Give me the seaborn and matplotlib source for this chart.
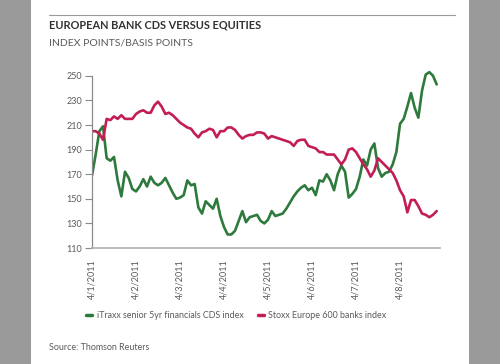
import numpy as np
import pandas as pd
import matplotlib
matplotlib.use("Agg")
import matplotlib.pyplot as plt
import seaborn as sns
from matplotlib.patches import Rectangle
from matplotlib.lines import Line2D

TITLE = "EUROPEAN BANK CDS VERSUS EQUITIES"
SUBTITLE = "INDEX POINTS/BASIS POINTS"
SOURCE = "Source: Thomson Reuters"

SERIES_NAMES = ["iTraxx senior 5yr financials CDS index", "Stoxx Europe 600 banks index"]

ITRAXX = [
    169, 186, 205, 209, 183, 181, 184, 165, 152, 172, 167, 158,
    156, 160, 166, 160, 168, 163, 161, 163, 167, 161, 155, 150,
    151, 153, 165, 161, 162, 143, 138, 148, 145, 142, 150, 136,
    127, 121, 121, 124, 132, 140, 131, 135, 136, 137, 132, 130,
    133, 140, 136, 137, 138, 142, 147, 152, 156, 159, 161, 157,
    159, 153, 165, 164, 170, 165, 157, 170, 177, 172, 151, 154,
    158, 168, 182, 177, 190, 195, 175, 168, 171, 172, 178, 188,
    211, 215, 225, 236, 224, 216, 238, 251, 253, 250, 243,
]
STOXX = [
    205, 205, 203, 198, 215, 214, 217, 215, 218, 215, 215, 215,
    219, 221, 222, 220, 220, 226, 229, 225, 219, 220, 218, 215,
    212, 210, 208, 207, 203, 200, 204, 205, 207, 206, 200, 205,
    205, 208, 208, 206, 202, 199, 201, 202, 202, 204, 204, 203,
    199, 201, 200, 199, 198, 197, 196, 193, 197, 198, 198, 193,
    192, 191, 188, 188, 186, 186, 186, 182, 178, 182, 190, 191,
    188, 183, 178, 174, 168, 173, 183, 180, 177, 174, 171, 165,
    157, 152, 139, 149, 149, 144, 138, 137, 135, 137, 140,
]

TICK_LABELS = ["4/1/2011", "4/2/2011", "4/3/2011", "4/4/2011",
               "4/5/2011", "4/6/2011", "4/7/2011", "4/8/2011"]
POINTS_PER_TICK = 12
Y_TICKS = [110, 130, 150, 170, 190, 210, 230, 250]

GREEN = "#2e7a3c"
RED = "#c21e55"
GREY_TEXT = "#5a5a5a"

df = pd.DataFrame({
    "obs": np.arange(len(ITRAXX)),
    SERIES_NAMES[0]: ITRAXX,
    SERIES_NAMES[1]: STOXX,
}).melt(id_vars="obs", var_name="series", value_name="value")

sns.set_style("white")
plt.rcParams["font.family"] = ["Lato", "DejaVu Sans"]

fig = plt.figure(figsize=(5, 3.64), dpi=100, facecolor="#9a9a9a")
fig.add_artist(Rectangle((31 / 500, 0), 438 / 500, 1, transform=fig.transFigure,
                         facecolor="white", edgecolor="none", zorder=-10))

ax = fig.add_axes([92 / 500, 1 - 248 / 364, 348 / 500, 182 / 364])
sns.lineplot(data=df, x="obs", y="value", hue="series", palette=[GREEN, RED],
             linewidth=1.9, ax=ax, legend=False)

ax.set_xlim(0, 94.9)
ax.set_ylim(110, 258)
ax.set_xlabel("")
ax.set_ylabel("")
for side in ["top", "right"]:
    ax.spines[side].set_visible(False)
ax.spines["left"].set_bounds(110, 250)
ax.spines["left"].set_color("#8a8a8a")
ax.spines["left"].set_linewidth(0.9)
ax.spines["bottom"].set_color("#b0b0b0")
ax.spines["bottom"].set_linewidth(1.2)

ax.set_yticks(Y_TICKS)
ax.tick_params(axis="y", left=True, length=5, width=0.8, color="#8a8a8a",
               labelsize=6.5, labelcolor=GREY_TEXT, pad=2)
ax.set_xticks(np.arange(len(TICK_LABELS)) * POINTS_PER_TICK)
ax.set_xticklabels(TICK_LABELS, rotation=90)
ax.tick_params(axis="x", bottom=False, length=0, labelsize=6.5,
               labelcolor=GREY_TEXT, pad=8)

handles = [Line2D([0], [0], color=GREEN, lw=2.5), Line2D([0], [0], color=RED, lw=2.5)]
fig.legend(handles=handles, labels=SERIES_NAMES, loc="center left",
           bbox_to_anchor=(86 / 500, 1 - 316 / 364), ncol=2, frameon=False,
           handlelength=0.7, handletextpad=0.5, columnspacing=1.6,
           borderpad=0, borderaxespad=0, fontsize=6.4, labelcolor=GREY_TEXT)

fig.add_artist(Line2D([49 / 500, 455 / 500], [1 - 15 / 364, 1 - 15 / 364],
                      transform=fig.transFigure, color="#9a9a9a", lw=0.8))
fig.text(49 / 500, 1 - 24.5 / 364, TITLE, fontsize=7.9, fontweight="bold",
         color="#333333", va="center")
fig.text(49 / 500, 1 - 43 / 364, SUBTITLE, fontsize=7.5, color=GREY_TEXT, va="center")
fig.text(49 / 500, 1 - 347 / 364, SOURCE, fontsize=6.4, color=GREY_TEXT, va="center")

fig.savefig("out.png", dpi=100, facecolor=fig.get_facecolor())
